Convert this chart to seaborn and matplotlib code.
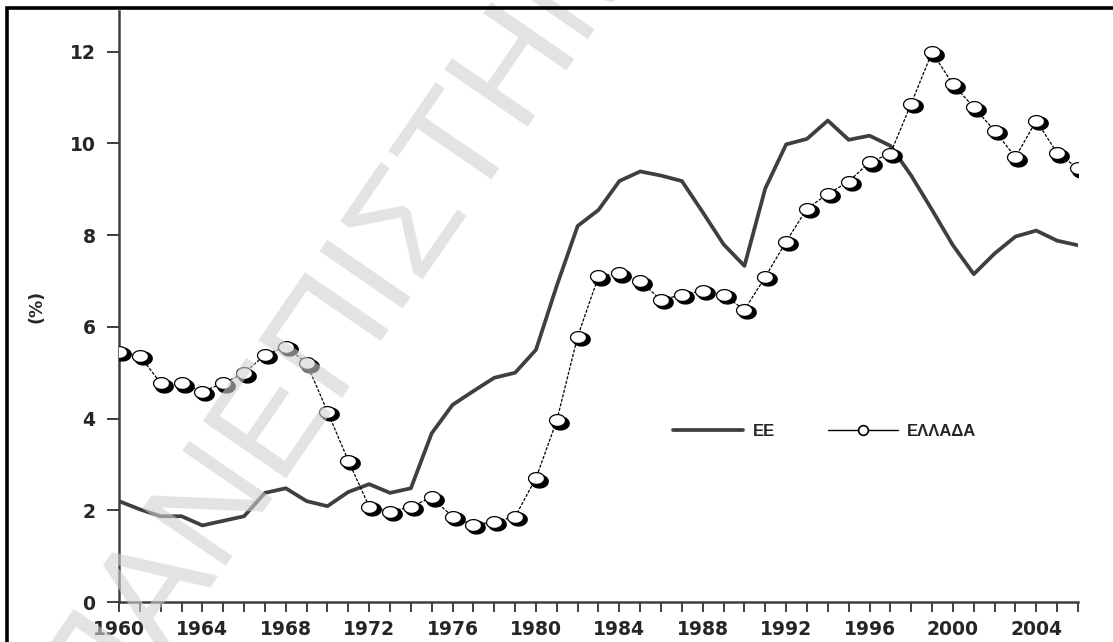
import numpy as np
import pandas as pd
import matplotlib
matplotlib.use("Agg")
import matplotlib.pyplot as plt
import matplotlib.transforms as mtransforms
from matplotlib import font_manager
from matplotlib.lines import Line2D
from matplotlib.patches import Rectangle
from matplotlib.ticker import MultipleLocator
import seaborn as sns

# data
years = list(range(1960, 2007))
ee = [2.2, 2.02, 1.87, 1.87, 1.67, 1.77, 1.87, 2.38, 2.48, 2.2,
      2.09, 2.4, 2.57, 2.38, 2.48, 3.68, 4.3, 4.6, 4.89, 5.0,
      5.5, 6.9, 8.2, 8.55, 9.18, 9.39, 9.3, 9.18, 8.5, 7.8,
      7.33, 9.02, 9.98, 10.1, 10.5, 10.08, 10.17, 9.95, 9.3, 8.55,
      7.78, 7.15, 7.6, 7.97, 8.1, 7.88, 7.78]
greece = [5.46, 5.37, 4.77, 4.77, 4.59, 4.77, 4.99, 5.39, 5.57, 5.21,
          4.15, 3.08, 2.08, 1.97, 2.08, 2.28, 1.86, 1.68, 1.75, 1.86,
          2.7, 3.96, 5.79, 7.1, 7.17, 6.99, 6.59, 6.7, 6.79, 6.7,
          6.37, 7.09, 7.86, 8.58, 8.9, 9.17, 9.59, 9.78, 10.87, 11.99,
          11.29, 10.79, 10.28, 9.7, 10.5, 9.79, 9.46]
labels = ["ΕΕ", "ΕΛΛΑΔΑ"]
watermark = "ΠΑΝΕΠΙΣΤΗΜΙΟ"

df = pd.DataFrame({"year": years, "ee": ee, "gr": greece})

sns.set_style("ticks")
plt.rcParams["font.family"] = ["DejaVu Sans"]
plt.rcParams["font.weight"] = "bold"
plt.rcParams["xtick.labelsize"] = 13.5
plt.rcParams["ytick.labelsize"] = 13.5

fig = plt.figure(figsize=(11.13, 6.42), dpi=100)
ax = fig.add_axes([119 / 1113, 40 / 642, (1078 - 119) / 1113, 591.5 / 642])

DARK = "#3f3f3f"

# ΕΕ
sns.lineplot(data=df, x="year", y="ee", ax=ax, color=DARK, lw=2.7, zorder=3)

# ΕΛΛΑΔΑ: thin dashed line + two-tone markers
sns.lineplot(data=df, x="year", y="gr", ax=ax, color="black", lw=0.9,
             linestyle=(0, (2.5, 1.2)), zorder=4)

t = np.linspace(0, 2 * np.pi, 40)
ell = np.column_stack([1.35 * np.cos(t), np.sin(t)])
shadow = mtransforms.offset_copy(ax.transData, fig=fig, x=3, y=-2.5, units="dots")
ax.plot(df["year"], df["gr"], ls="none", marker=ell, ms=12.5, mfc="black",
        mec="black", transform=shadow, zorder=5)
ax.plot(df["year"], df["gr"], ls="none", marker=ell, ms=11.5, mfc="white",
        mec="black", mew=0.9, zorder=6)

ax.set_xlim(1960, 2006)
ax.set_ylim(0, 12.9)
ax.xaxis.set_major_locator(MultipleLocator(4))
ax.xaxis.set_minor_locator(MultipleLocator(1))
ax.yaxis.set_major_locator(MultipleLocator(2))
ax.tick_params(axis="x", which="both", direction="out", length=7, width=1.4,
               color=DARK, pad=6)
ax.tick_params(axis="y", which="major", direction="out", length=9, width=1.4,
               color=DARK, pad=8)

sns.despine(ax=ax)
for s in ("left", "bottom"):
    ax.spines[s].set_linewidth(1.8)
    ax.spines[s].set_color(DARK)
ax.set_xlabel("")
ax.set_ylabel("(%)", fontsize=12.5, fontweight="bold", labelpad=17)

handles = [
    Line2D([], [], color=DARK, lw=2.7),
    Line2D([], [], color="black", lw=1.0, marker="o", ms=7, mfc="white", mec="black", mew=1.2),
]
ax.legend(handles, labels, loc="center left", bbox_to_anchor=(0.578, 0.289),
          ncol=2, frameon=False, borderpad=0, borderaxespad=0,
          handlelength=4.2, handletextpad=0.55, columnspacing=3.2,
          prop={"weight": "bold", "size": 12, "family": "Liberation Sans"})

# watermark on top (narrow face if there is one)
names = {f.name for f in font_manager.fontManager.ttflist}
if "Liberation Sans Narrow" in names:
    wm_family, wm_size = ["Liberation Sans Narrow"], 128
else:
    wm_family, wm_size = ["Liberation Sans"], 106
fig.text(0.346, 0.612, watermark, rotation=55.5, ha="center", va="center",
         fontsize=wm_size, fontweight="normal", family=wm_family,
         color="#d0d0d0", alpha=0.6, zorder=20)

# frame at top / left
fig.patches.append(Rectangle((7 / 1113, -0.2), 1.2, 1.2 - 8 / 642,
                             transform=fig.transFigure, fill=False,
                             ec="black", lw=2.6, zorder=30))

fig.savefig("out.png", dpi=100)
